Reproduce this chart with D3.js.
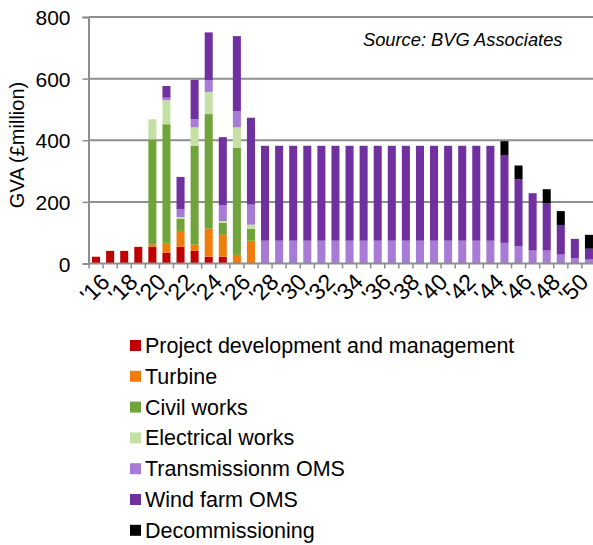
<!DOCTYPE html>
<html>
<head>
<meta charset="utf-8">
<script src="https://cdn.jsdelivr.net/npm/d3@7"></script>
<style>
  body { margin: 0; background: #fff; }
  svg text { font-family: "Liberation Sans", Arial, sans-serif; fill: #000; }
</style>
</head>
<body>
<div id="chart"></div>
<script>
var years = d3.range(2016, 2052);

var seriesNames = ['Project development and management', 'Turbine', 'Civil works',
  'Electrical works', 'Transmissionm OMS', 'Wind farm OMS', 'Decommissioning'];
var seriesColours = ['#c00000', '#f07c0a', '#70a33a', '#c4e0a4', '#a87bd6', '#7030a0', '#000000'];

// values per year, 2016 - 2051 (£million)
var projectDev = [22, 41, 41, 54, 54, 35, 54, 41, 22, 22, 0, 0,
  0, 0, 0, 0, 0, 0, 0, 0, 0, 0, 0, 0, 0, 0, 0, 0, 0, 0, 0, 0, 0, 0, 0, 0];
var turbine = [0, 0, 0, 0, 8, 32, 52, 20, 91, 71, 28, 74,
  0, 0, 0, 0, 0, 0, 0, 0, 0, 0, 0, 0, 0, 0, 0, 0, 0, 0, 0, 0, 0, 0, 0, 0];
var civilWorks = [0, 0, 0, 0, 341, 385, 39, 321, 372, 39, 348, 39,
  0, 0, 0, 0, 0, 0, 0, 0, 0, 0, 0, 0, 0, 0, 0, 0, 0, 0, 0, 0, 0, 0, 0, 0];
var electricalWorks = [0, 0, 0, 0, 65, 78, 6, 60, 72, 6, 66, 13,
  0, 0, 0, 0, 0, 0, 0, 0, 0, 0, 0, 0, 0, 0, 0, 0, 0, 0, 0, 0, 0, 0, 0, 0];
var transmissionOms = [0, 0, 0, 0, 0, 8, 26, 26, 38, 52, 53, 65,
  74, 74, 74, 74, 74, 74, 74, 74, 74, 74, 74, 74, 74, 74, 74, 74, 74,
  67, 56, 42, 42, 29, 17, 13];
var windFarmOms = [0, 0, 0, 0, 0, 38, 104, 128, 155, 220, 243, 282,
  308, 308, 308, 308, 308, 308, 308, 308, 308, 308, 308, 308, 308, 308, 308, 308, 308,
  285, 217, 186, 153, 96, 63, 35];
var decommissioning = [0, 0, 0, 0, 0, 0, 0, 0, 0, 0, 0, 0,
  0, 0, 0, 0, 0, 0, 0, 0, 0, 0, 0, 0, 0, 0, 0, 0, 0,
  45, 45, 0, 46, 45, 0, 45];

var yTicks = [0, 200, 400, 600, 800];

var width = 593;
var height = 545;

// build rows for the stack
var series = [projectDev, turbine, civilWorks, electricalWorks, transmissionOms, windFarmOms, decommissioning];
var rows = years.map(function(y, i) {
  var row = { year: y };
  seriesNames.forEach(function(name, k) { row[name] = series[k][i]; });
  return row;
});
var stacked = d3.stack().keys(seriesNames)(rows);

var svg = d3.select('#chart')
  .append('svg')
  .attr('width', width)
  .attr('height', height);

var x = d3.scaleBand()
  .domain(years)
  .range([89, 596])
  .paddingInner(0.43)
  .paddingOuter(0.215);

var y = d3.scaleLinear()
  .domain([0, 800])
  .range([263.5, 17]);

//gridlines
svg.append('g')
  .selectAll('line')
  .data(yTicks.slice(1))
  .enter()
  .append('line')
  .attr('x1', 89)
  .attr('x2', 596)
  .attr('y1', function(d) { return y(d); })
  .attr('y2', function(d) { return y(d); })
  .attr('stroke', '#8e8e8e')
  .attr('stroke-width', 2);

//bars
svg.append('g')
  .selectAll('g')
  .data(stacked)
  .enter()
  .append('g')
  .attr('fill', function(d, i) { return seriesColours[i]; })
  .selectAll('rect')
  .data(function(d) { return d.filter(function(p) { return p[1] > p[0]; }); })
  .enter()
  .append('rect')
  .attr('x', function(d) { return x(d.data.year); })
  .attr('width', x.bandwidth())
  .attr('y', function(d) { return y(d[1]); })
  .attr('height', function(d) { return y(d[0]) - y(d[1]); });

// y axis
var yAxis = svg.append('g')
  .attr('transform', 'translate(88.5,0)')
  .call(d3.axisLeft(y).tickValues(yTicks).tickSize(6).tickPadding(12));
yAxis.selectAll('text').attr('font-size', '21px').attr('dy', '0.36em');

// x axis, ticks on category boundaries
var xAxis = svg.append('g')
  .attr('transform', 'translate(0,263.5)');
xAxis.append('line')
  .attr('x1', 88.5)
  .attr('x2', 596)
  .attr('stroke', '#8e8e8e')
  .attr('stroke-width', 2);
xAxis.selectAll('.tick')
  .data(years)
  .enter()
  .append('line')
  .attr('x1', function(d) { return x(d) - x.step() * x.paddingInner() / 2; })
  .attr('x2', function(d) { return x(d) - x.step() * x.paddingInner() / 2; })
  .attr('y1', 0)
  .attr('y2', 5)
  .attr('stroke', '#8e8e8e')
  .attr('stroke-width', 1.5);
xAxis.selectAll('text')
  .data(years.filter(function(d, i) { return i % 2 === 0; }))
  .enter()
  .append('text')
  .attr('font-size', '23px')
  .attr('text-anchor', 'end')
  .attr('transform', function(d) {
    return 'translate(' + (x(d) + x.bandwidth() / 2 + 5) + ',10) rotate(-45)';
  })
  .attr('dy', '0.61em')
  .text(function(d) { return "'" + String(d).slice(2); });

svg.selectAll('.domain').attr('stroke', '#8e8e8e').attr('stroke-width', 2);
svg.selectAll('.tick line').attr('stroke', '#8e8e8e').attr('stroke-width', 1.5);

// y axis title
svg.append('text')
  .attr('transform', 'translate(24,145) rotate(-90)')
  .attr('text-anchor', 'middle')
  .attr('font-size', '20px')
  .text('GVA (£million)');

// source note
svg.append('text')
  .attr('x', 363)
  .attr('y', 46)
  .attr('font-size', '18.3px')
  .attr('font-style', 'italic')
  .text('Source: BVG Associates');

//legend
var legend = svg.append('g')
  .selectAll('g')
  .data(seriesNames)
  .enter()
  .append('g')
  .attr('transform', function(d, i) { return 'translate(130,' + (345 + i * 30.8) + ')'; });
legend.append('rect')
  .attr('y', -5)
  .attr('width', 11)
  .attr('height', 11)
  .attr('fill', function(d, i) { return seriesColours[i]; });
legend.append('text')
  .attr('x', 15)
  .attr('y', 8)
  .attr('font-size', '21.5px')
  .text(function(d) { return d; });
</script>
</body>
</html>
